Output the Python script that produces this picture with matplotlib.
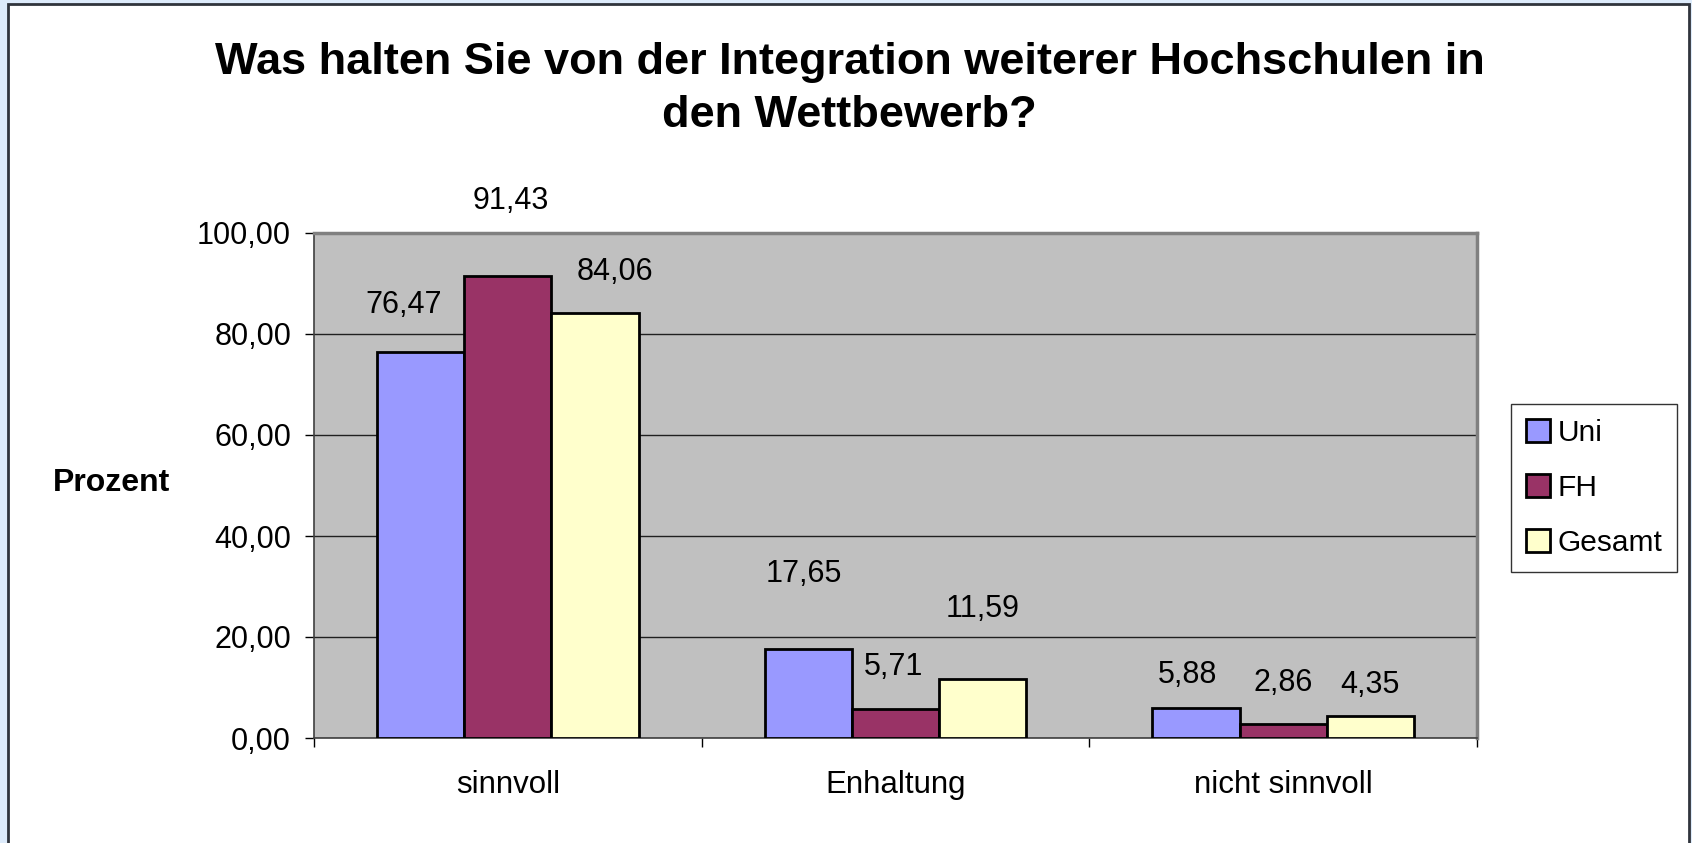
import matplotlib
matplotlib.use('Agg')
import matplotlib.pyplot as plt
import numpy as np
from matplotlib.patches import Rectangle

plt.rcParams['font.family'] = ['Liberation Sans', 'DejaVu Sans']

# data
categories = ['sinnvoll', 'Enhaltung', 'nicht sinnvoll']
series_names = ['Uni', 'FH', 'Gesamt']
uni = [76.47, 17.65, 5.88]
fh = [91.43, 5.71, 2.86]
gesamt = [84.06, 11.59, 4.35]
yticks = [0, 20, 40, 60, 80, 100]
title = 'Was halten Sie von der Integration weiterer Hochschulen in\nden Wettbewerb?'

colors = ['#9999FF', '#993366', '#FFFFCC']
# label offsets (points) - the labels in the original were nudged by hand
offsets = [
    [(-12.5, 34), (-3, 54), (-6, 24)],
    [(2, 54), (-1.5, 30), (0, 29)],
    [(14, 30), (0, 51), (0, 22.5)],
]

fig = plt.figure(figsize=(16.92, 8.43), dpi=100)
fig.patch.set_facecolor('#DDEBFB')
fig.patches.append(Rectangle((8/1692, -0.01), (1689-8)/1692, 1 - 4/843 + 0.01,
                             transform=fig.transFigure, facecolor='white',
                             edgecolor='#30343C', linewidth=2, zorder=-1))

ax = fig.add_axes([314/1692, 1 - 738/843, (1477-314)/1692, (738-233)/843])
ax.set_facecolor('#C0C0C0')

x = np.arange(len(categories))
w = 0.225
for i, (vals, name) in enumerate(zip([uni, fh, gesamt], series_names)):
    pos = x + (i - 1) * w
    ax.bar(pos, vals, w, color=colors[i], edgecolor='black', linewidth=2,
           label=name, zorder=3)
    for j, v in enumerate(vals):
        ax.annotate(('%.2f' % v).replace('.', ','), (pos[j], v),
                    xytext=offsets[i][j], textcoords='offset points',
                    ha='center', va='center', fontsize=22)

ax.set_xlim(-0.5, 2.5)
ax.set_ylim(0, 100)
ax.set_yticks(yticks)
ax.set_yticklabels([('%.2f' % t).replace('.', ',') for t in yticks], fontsize=22)
ax.yaxis.grid(True, color='#202020', linewidth=1, zorder=1)
ax.set_axisbelow(True)

ax.set_xticks([-0.5, 0.5, 1.5, 2.5])
ax.set_xticklabels([])
ax.set_xticks(x, minor=True)
ax.set_xticklabels(categories, minor=True, fontsize=22.5)
ax.tick_params(axis='x', which='minor', length=0, pad=23)
ax.tick_params(axis='x', which='major', length=6.5, width=1, direction='out')
ax.tick_params(axis='y', length=6.5, width=1, direction='out', pad=10)

for s in ['top', 'right']:
    ax.spines[s].set_color('#808080')
    ax.spines[s].set_linewidth(2.5)
for s in ['left', 'bottom']:
    ax.spines[s].set_color('#404040')
    ax.spines[s].set_linewidth(1.2)

fig.text(0.502, 1 - 89/843, title, ha='center', va='center', fontsize=32.5,
         fontweight='bold', linespacing=1.36)
fig.text(111/1692, 1 - 483/843, 'Prozent', ha='center', va='center',
         fontsize=23, fontweight='bold')

leg = fig.legend(loc='upper left', bbox_to_anchor=(1511/1692, 1 - 404/843),
                 fontsize=21.5, frameon=True, fancybox=False, edgecolor='black',
                 handlelength=0.8, handleheight=0.8, handletextpad=0.25,
                 labelspacing=0.9, borderpad=0.5, borderaxespad=0)
leg.get_frame().set_linewidth(1)

fig.savefig('out.png', dpi=100, facecolor=fig.get_facecolor())
